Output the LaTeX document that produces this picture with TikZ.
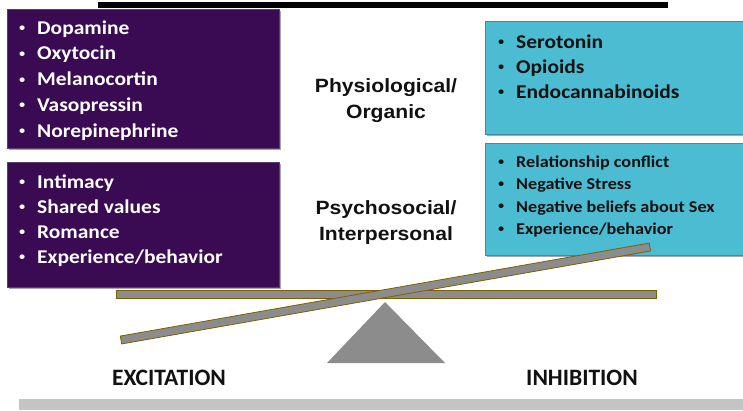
\documentclass[tikz,border=0pt]{standalone}
\usepackage{fontspec}
\setmainfont{Carlito}[FakeStretch=1.1]
\newfontfamily\plainf{Carlito}
\newfontfamily\arialf{Liberation Sans}[FakeStretch=1.1]
\usetikzlibrary{shadows}
\definecolor{purp}{HTML}{3A0B53}
\definecolor{purpedge}{HTML}{5B3F6B}
\definecolor{cyanb}{HTML}{4BBCD2}
\definecolor{cyanedge}{HTML}{3A8FA0}
\definecolor{beamgray}{HTML}{8C8C8C}
\definecolor{beamedge}{HTML}{7F6000}
\definecolor{floorgray}{HTML}{C4C4C4}
\definecolor{txtdark}{HTML}{111111}
\newcommand{\bul}{\makebox[18pt][l]{\arialf\fontsize{16}{16}\selectfont\raisebox{0.5pt}{•}}}
\begin{document}
\begin{tikzpicture}[x=1pt,y=-1pt,
  boxbase/.style={anchor=north west, inner sep=0, line width=0.8pt,
    drop shadow={shadow xshift=1.5pt, shadow yshift=-1.5pt, fill=black, opacity=0.35}},
  pbox/.style={boxbase, draw=purpedge, fill=purp},
  cbox/.style={boxbase, draw=cyanedge, fill=cyanb},
  witem/.style={anchor=base west, inner sep=0, text=white, font=\fontsize{19.5}{22}\selectfont\bfseries},
  bitem/.style={anchor=base west, inner sep=0, text=txtdark, font=\fontsize{19.5}{22}\selectfont\bfseries},
  sitem/.style={anchor=base west, inner sep=0, text=txtdark, font=\fontsize{16.5}{19}\selectfont\bfseries},
  midlabel/.style={align=center, inner sep=0, text=txtdark, font=\arialf\fontsize{19.2}{26}\selectfont\bfseries},
  sidelabel/.style={inner sep=0, text=txtdark, font=\plainf\fontsize{23.5}{26}\selectfont\bfseries},
  beam/.style={fill=beamgray, draw=beamedge, line width=0.8pt}]
\useasboundingbox (0,0) rectangle (743,410);

% top bar
\fill[black] (98,2) rectangle (668,8);

% boxes
\node[pbox, minimum width=272pt, minimum height=139pt] (physbox) at (7,9) {};
\node[pbox, minimum width=272pt, minimum height=125pt] (psybox) at (7,162) {};
\node[cbox, minimum width=262pt, minimum height=113pt] (physinh) at (485,21) {};
\node[cbox, minimum width=262pt, minimum height=112pt] (psyinh) at (485,143) {};

% left lists
\foreach \t [count=\i] in {Dopamine,Oxytocin,Melanocortin,Vasopressin,Norepinephrine}
  \node[witem] (pa\i) at (19,{34+25.8*(\i-1)}) {\bul\t};
\foreach \t [count=\i] in {Intimacy,Shared values,Romance,Experience/behavior}
  \node[witem] (pb\i) at (19,{188+25*(\i-1)}) {\bul\t};

% right lists
\foreach \t [count=\i] in {Serotonin,Opioids,Endocannabinoids}
  \node[bitem] (ca\i) at (498,{48+25*(\i-1)}) {\bul\t};
\foreach \t [count=\i] in {Relationship conflict,Negative Stress,Negative beliefs about Sex,Experience/behavior}
  \node[sitem] (cb\i) at (498,{167.5+22.4*(\i-1)}) {\bul\t};

% middle labels
\node[midlabel] (physlab) at (386,101) {Physiological/\\Organic};
\node[midlabel] (psylab) at (386,223) {Psychosocial/\\Interpersonal};

% balance
\draw[beam] (116,290) rectangle (656,298);
\fill[beamgray] (385,302) -- (445,363) -- (327,363) -- cycle;
\begin{scope}[shift={(121,340)}, rotate=9.97]
  \draw[beam] (0,-4) rectangle (537,4);
\end{scope}

% side labels
\node[sidelabel] (exc) at (169,378) {EXCITATION};
\node[sidelabel] (inh) at (582,378) {INHIBITION};

% floor
\fill[floorgray] (19,399) rectangle (743,410);
\end{tikzpicture}
\end{document}
